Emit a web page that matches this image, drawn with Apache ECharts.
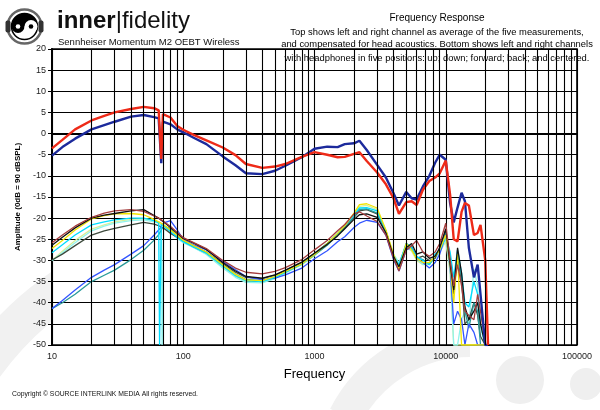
<!DOCTYPE html>
<html>
<head>
<meta charset="utf-8">
<script src="https://cdn.jsdelivr.net/npm/echarts@6/dist/echarts.min.js"></script>
<style>
html,body{margin:0;padding:0;background:#fff;}
#c{width:600px;height:410px;}
</style>
</head>
<body>
<div id="c"></div>
<script>
// Frequency grid (Hz) shared by all curves
const freq = [10,12,15,20,25,30,40,50,60,65,66,67,68,69,70,71,80,90,100,120,150,200,250,300,400,500,600,800,1000,1250,1500,1700,2000,2200,2500,3000,3500,4000,4400,5000,5500,6000,6700,7500,8300,9000,10000,10800,11500,12300,13200,14000,15000,16400,17500,18400,20000,21000];

// Top: compensated averages (dB)
const topRed = [-3.5,-1.5,1.0,3.1,4.2,5.0,5.8,6.3,6.0,5.5,5.3,5.2,-6.0,-6.0,4.6,4.5,3.8,1.8,0.9,-0.3,-1.6,-3.3,-5.1,-7.2,-8.1,-7.8,-7.2,-5.5,-4.4,-5.0,-5.6,-5.5,-4.8,-4.4,-6.5,-9.2,-12.0,-15.3,-19.0,-16.2,-16.0,-16.9,-13.3,-11.2,-10.4,-9.4,-6.4,-14.5,-25.0,-25.5,-18.5,-16.4,-17.0,-24.0,-23.5,-21.6,-30.0,-50];
const topBlue = [-5.2,-3.2,-1.2,1.0,2.0,2.8,4.0,4.4,3.9,3.6,3.5,3.4,-7.0,-7.0,2.8,2.7,2.2,1.0,0.3,-1.0,-2.5,-5.4,-7.5,-9.4,-9.6,-8.8,-7.6,-5.6,-3.6,-3.1,-3.2,-2.5,-2.3,-1.7,-3.9,-7.4,-10.4,-14.1,-17.0,-13.8,-15.3,-15.6,-12.5,-10.0,-6.9,-5.0,-6.2,-16.5,-21.0,-17.5,-14.0,-16.0,-27.0,-34.0,-31.0,-38.0,-50,-50];

// Bottom: five positions, left/right (dB, raw)
const posBrown = [-25.8,-24.0,-21.9,-19.8,-18.8,-18.3,-18.0,-18.4,-19.5,-20.0,-20.2,-20.3,-20.4,-20.5,-20.7,-20.8,-22.0,-23.4,-24.6,-25.8,-27.2,-30.0,-31.8,-32.8,-33.2,-32.6,-31.7,-29.8,-27.5,-25.3,-23.0,-21.5,-19.0,-18.5,-19.5,-20.8,-24.0,-29.5,-32.5,-27.5,-26.5,-25.3,-28.0,-29.0,-28.0,-26.0,-21.2,-30.0,-36.0,-31.0,-36.0,-42.0,-43.0,-44.0,-38.0,-42.0,-50,-50];
const posBlack = [-26.4,-24.5,-22.3,-20.0,-19.3,-18.9,-18.3,-18.0,-19.4,-20.0,-20.3,-20.4,-20.5,-20.6,-20.8,-20.9,-22.2,-23.6,-24.8,-25.9,-27.4,-30.5,-32.5,-33.8,-34.2,-33.4,-32.3,-30.4,-28.3,-26.2,-24.2,-22.5,-20.3,-19.2,-19.0,-19.8,-23.5,-29.0,-31.5,-27.0,-26.0,-28.5,-28.0,-29.5,-29.0,-27.0,-22.5,-31.0,-37.0,-27.0,-33.0,-41.0,-44.0,-42.0,-40.0,-45.0,-50,-50];
const posYellow = [-27.2,-25.3,-22.8,-20.2,-19.4,-19.0,-18.9,-19.2,-20.3,-20.9,-21.0,-21.1,-21.2,-21.3,-21.5,-21.6,-22.8,-24.0,-25.2,-26.5,-28.0,-31.0,-33.3,-34.6,-34.8,-33.8,-32.6,-30.8,-28.6,-26.0,-23.6,-21.8,-18.8,-16.8,-16.6,-17.6,-22.8,-28.5,-32.0,-26.0,-27.5,-29.5,-30.5,-30.5,-29.0,-27.5,-24.0,-31.0,-40.0,-28.5,-50,-50,-50,-50,-50,-50,-50,-50];
const posCyan = [-28.2,-26.3,-24.0,-21.6,-20.9,-20.4,-20.0,-20.0,-20.6,-21.1,-50,-50,-21.4,-21.5,-21.7,-21.8,-23.2,-24.5,-25.6,-26.8,-28.3,-31.3,-33.6,-34.8,-35.0,-34.0,-32.8,-30.8,-28.5,-26.0,-23.6,-21.8,-19.2,-17.6,-17.5,-18.3,-23.0,-29.0,-31.0,-26.0,-27.0,-29.0,-30.0,-31.0,-28.5,-27.5,-24.5,-28.0,-34.0,-27.5,-33.0,-40.0,-41.0,-35.0,-38.0,-45.0,-50,-50];
const posLightCyan = [-30.1,-28.2,-25.8,-23.0,-21.9,-21.2,-20.6,-20.4,-20.9,-21.2,-21.3,-21.4,-21.5,-50,-50,-22.0,-23.4,-24.8,-25.8,-27.0,-28.6,-31.8,-34.0,-35.2,-35.3,-34.3,-33.0,-31.0,-28.8,-26.3,-23.8,-22.2,-19.5,-17.8,-17.9,-18.8,-23.5,-28.5,-30.5,-26.5,-27.5,-29.5,-31.0,-30.5,-29.5,-28.0,-25.0,-32.0,-50,-50,-44.0,-42.0,-45.0,-32.0,-36.0,-46.0,-50,-50];
const posOlive = [-29.9,-28.5,-26.5,-24.0,-23.0,-22.4,-21.6,-21.0,-21.4,-21.8,-21.9,-22.0,-22.1,-22.2,-22.3,-22.4,-23.6,-24.5,-25.3,-26.6,-28.0,-30.8,-32.8,-34.0,-34.3,-33.5,-32.4,-30.5,-28.3,-26.0,-23.8,-22.2,-19.8,-18.3,-18.0,-19.0,-23.0,-29.0,-31.8,-26.5,-27.0,-29.5,-29.0,-30.0,-29.5,-27.0,-23.0,-30.0,-38.0,-29.0,-35.0,-45.0,-44.0,-40.0,-43.0,-48.0,-50,-50];
const posBlue = [-41.4,-39.5,-37.0,-34.0,-32.3,-31.0,-28.5,-26.5,-24.0,-22.8,-22.5,-22.3,-22.0,-21.6,-21.3,-21.1,-20.6,-22.8,-25.0,-26.3,-27.5,-30.2,-32.2,-33.8,-34.6,-34.2,-33.4,-31.8,-29.6,-27.7,-25.6,-24.4,-22.2,-21.2,-20.5,-21.0,-24.0,-29.8,-32.5,-27.5,-27.0,-29.5,-30.5,-31.8,-30.5,-28.5,-24.0,-31.5,-45.0,-42.0,-44.0,-50,-45.0,-47.0,-50,-50,-50,-50];
const posTeal = [-41.4,-40.0,-38.0,-35.0,-33.5,-32.3,-29.8,-27.6,-25.2,-23.9,-23.5,-23.2,-22.8,-22.4,-22.0,-21.9,-22.5,-24.0,-25.4,-26.8,-28.2,-31.0,-33.2,-34.5,-34.8,-33.9,-32.8,-30.8,-28.7,-26.4,-24.0,-22.4,-19.7,-18.0,-17.8,-18.8,-23.3,-29.2,-31.3,-26.0,-26.8,-29.3,-29.8,-31.0,-29.0,-27.5,-23.5,-29.5,-36.0,-28.5,-34.0,-42.0,-46.0,-40.0,-42.0,-50,-50,-50];
const posPale = [-30.0,-27.8,-25.3,-22.6,-21.6,-20.9,-20.3,-20.1,-20.5,-20.9,-21.0,-21.1,-21.2,-21.3,-21.4,-21.5,-23.0,-24.4,-25.5,-26.8,-28.4,-31.5,-33.8,-35.0,-35.2,-34.2,-32.9,-31.0,-28.8,-26.2,-23.7,-22.0,-19.0,-17.2,-17.0,-18.0,-23.5,-29.5,-32.2,-26.8,-27.8,-30.0,-31.0,-30.8,-29.5,-28.0,-25.5,-33.0,-50,-50,-50,-50,-50,-50,-50,-50,-50,-50];

// Axis ticks
const yTicks = {min: -50, max: 20, step: 5};
const xDecades = [10, 100, 1000, 10000, 100000];
const minorGrid = [20,30,40,50,60,70,80,90,200,300,400,500,600,700,800,900,2000,3000,4000,5000,6000,7000,8000,9000,20000,30000,40000,50000,60000,70000,80000,90000];

const FONT = '"Liberation Sans", Arial, sans-serif';
const pair = arr => freq.map((f, i) => [f, arr[i]]);

const bottomSeries = [
  {name:'pos1L', data: posPale, color:'#d6f09a'},
  {name:'pos2L', data: posLightCyan, color:'#8ff3ec'},
  {name:'pos3L', data: posOlive, color:'#3d4a3d'},
  {name:'pos4L', data: posTeal, color:'#2a9a9a'},
  {name:'pos5L', data: posBlue, color:'#3355ff'},
  {name:'pos1R', data: posCyan, color:'#00dcff'},
  {name:'pos2R', data: posYellow, color:'#f2e400'},
  {name:'pos3R', data: posBlack, color:'#111111'},
  {name:'pos4R', data: posBrown, color:'#a43c3c'}
];

const series = [];
series.push({
  type:'line', data: [], z: 1, silent: true,
  markLine: {
    silent: true, symbol: 'none', animation: false,
    label: {show: false},
    lineStyle: {color:'#000', width: 1.1, type:'solid'},
    data: minorGrid.map(v => ({xAxis: v}))
  }
});
bottomSeries.forEach(s => {
  series.push({
    type:'line', name: s.name, data: pair(s.data), showSymbol:false, z: 3,
    lineStyle: {color: s.color, width: 1.3}, itemStyle:{color:s.color}, animation:false, silent:true
  });
});
series.push({type:'line', name:'Left', data: pair(topBlue), showSymbol:false, z:4,
  lineStyle:{color:'#1c2a9c', width:2.4}, itemStyle:{color:'#1c2a9c'}, animation:false, silent:true});
series.push({type:'line', name:'Right', data: pair(topRed), showSymbol:false, z:4,
  lineStyle:{color:'#ee2a18', width:2.4}, itemStyle:{color:'#ee2a18'}, animation:false, silent:true});

const chart = echarts.init(document.getElementById('c'), null, {renderer:'canvas'});
chart.setOption({
  backgroundColor:'#ffffff',
  animation:false,
  textStyle:{fontFamily: FONT},
  grid:{left:52, right:23, top:49, bottom:65, show:true, borderColor:'#000', borderWidth:1.6, backgroundColor:'#ffffff'},
  xAxis:{
    type:'log', logBase:10, min: xDecades[0], max: xDecades[xDecades.length-1], interval: 1,
    axisLine:{show:true, lineStyle:{color:'#000', width:2}},
    axisTick:{show:true, length:4, lineStyle:{color:'#000'}},
    axisLabel:{fontSize:9, color:'#222', margin:7, fontFamily: FONT, formatter: v => String(Math.round(v))},
    splitLine:{show:true, lineStyle:{color:'#000', width:1.1}},
    name:'Frequency', nameLocation:'middle', nameGap:23,
    nameTextStyle:{fontSize:13, color:'#000', fontFamily: FONT}
  },
  yAxis:{
    type:'value', min: yTicks.min, max: yTicks.max, interval: yTicks.step,
    axisLine:{show:true, lineStyle:{color:'#000', width:2}},
    axisTick:{show:true, length:4, lineStyle:{color:'#000'}},
    axisLabel:{fontSize:9, color:'#222', margin:6, fontFamily: FONT},
    splitLine:{show:true, lineStyle:{color:'#000', width:1.1}},
    name:'Amplitude (0dB = 90 dBSPL)', nameLocation:'middle', nameGap:24, nameRotate:90,
    nameTextStyle:{fontSize:8, fontWeight:'bold', color:'#000', fontFamily: FONT}
  },
  graphic:[
    // faint watermark shapes
    {type:'arc', z:-10, silent:true, shape:{cx:250, cy:560, r:330, startAngle:Math.PI*1.05, endAngle:Math.PI*1.35},
      style:{stroke:'#f1f1f1', lineWidth:40, fill:null}},
    {type:'arc', z:-10, silent:true, shape:{cx:470, cy:480, r:140, startAngle:Math.PI*1.15, endAngle:Math.PI*1.5},
      style:{stroke:'#f1f1f1', lineWidth:34, fill:null}},
    {type:'circle', z:-10, silent:true, shape:{cx:520, cy:380, r:24}, style:{fill:'#efefef'}},
    {type:'circle', z:-10, silent:true, shape:{cx:586, cy:384, r:16}, style:{fill:'#efefef'}},
    // logo
    {type:'group', left:5, top:7, children:[
      {type:'circle', shape:{cx:19, cy:19, r:17}, style:{fill:null, stroke:'#666', lineWidth:2.5}},
      {type:'rect', shape:{x:0, y:13, width:5, height:12, r:2}, style:{fill:'#333'}},
      {type:'rect', shape:{x:33, y:13, width:5, height:12, r:2}, style:{fill:'#333'}},
      {type:'circle', shape:{cx:19, cy:19, r:13}, style:{fill:'#fff', stroke:'#000', lineWidth:1.5}},
      {type:'sector', shape:{cx:19, cy:19, r:13, startAngle:Math.PI, endAngle:Math.PI*2}, style:{fill:'#000'}},
      {type:'circle', shape:{cx:12.5, cy:19, r:6.5}, style:{fill:'#000'}},
      {type:'circle', shape:{cx:25.5, cy:19, r:6.5}, style:{fill:'#fff'}},
      {type:'circle', shape:{cx:12.5, cy:19, r:2.3}, style:{fill:'#fff'}},
      {type:'circle', shape:{cx:25.5, cy:19, r:2.3}, style:{fill:'#000'}}
    ]},
    {type:'text', left:57, top:9, style:{
      text:'{a|inner}{b||fidelity}',
      rich:{
        a:{fontSize:24, fontWeight:'bold', fill:'#111', fontFamily: FONT},
        b:{fontSize:24, fontWeight:'normal', fill:'#111', fontFamily: FONT}
      }
    }},
    {type:'text', left:58, top:37, style:{text:'Sennheiser Momentum M2 OEBT Wireless', fontSize:9.5, fill:'#111', fontFamily: FONT}},
    // title block
    {type:'text', x:437, y:18, style:{text:'Frequency Response', fontSize:10, fill:'#000', align:'center', verticalAlign:'middle', fontFamily: FONT}},
    {type:'text', x:437, y:32, style:{text:'Top shows left and right channel as average of the five measurements,', fontSize:9.4, fill:'#000', align:'center', verticalAlign:'middle', fontFamily: FONT}},
    {type:'text', x:437, y:44, style:{text:'and compensated for head acoustics. Bottom shows left and right channels', fontSize:9.4, fill:'#000', align:'center', verticalAlign:'middle', fontFamily: FONT}},
    {type:'text', x:437, y:58, z:100, style:{text:'with headphones in five positions: up; down; forward; back; and centered.', fontSize:9.4, fill:'#000', align:'center', verticalAlign:'middle', fontFamily: FONT}},
    {type:'text', left:12, top:391, style:{text:'Copyright \u00a9 SOURCE INTERLINK MEDIA All rights reserved.', fontSize:6.8, fill:'#111', fontFamily: FONT}}
  ],
  series: series
});
</script>
</body>
</html>
